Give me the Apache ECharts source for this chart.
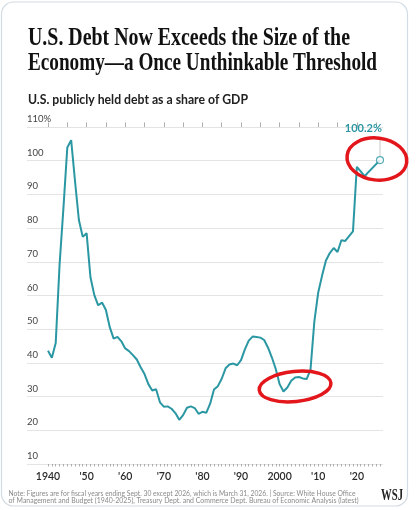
<!DOCTYPE html>
<html><head><meta charset="utf-8">
<script src="https://cdn.jsdelivr.net/npm/echarts@6/dist/echarts.min.js"></script>
<style>html,body{margin:0;padding:0;background:#fff}#c{width:420px;height:510px}</style>
</head><body><div id="c"></div>
<script>
// ---- data ----
const years = [1940,1941,1942,1943,1944,1945,1946,1947,1948,1949,
  1950,1951,1952,1953,1954,1955,1956,1957,1958,1959,
  1960,1961,1962,1963,1964,1965,1966,1967,1968,1969,
  1970,1971,1972,1973,1974,1975,1976,1977,1978,1979,
  1980,1981,1982,1983,1984,1985,1986,1987,1988,1989,
  1990,1991,1992,1993,1994,1995,1996,1997,1998,1999,
  2000,2001,2002,2003,2004,2005,2006,2007,2008,2009,
  2010,2011,2012,2013,2014,2015,2016,2017,2018,2019,
  2020,2021,2022,2023,2024,2025,2026];
const debtShare = [43.6,41.5,45.9,69.2,86.0,103.9,106.1,93.9,82.4,77.4,
  78.5,65.4,60.1,57.1,57.9,55.7,50.6,47.2,47.7,46.4,
  44.3,43.5,42.3,41.0,38.7,36.7,33.7,31.8,32.2,28.3,
  27.0,27.1,26.4,25.1,23.1,24.5,26.7,27.1,26.6,24.9,
  25.5,25.2,27.9,32.1,33.1,35.3,38.4,39.5,39.8,39.3,
  40.8,44.0,46.6,47.8,47.7,47.5,46.8,44.5,41.6,38.2,
  33.7,31.5,32.7,34.7,35.7,35.8,35.4,35.2,38.0,52.3,
  60.9,65.9,70.4,72.6,74.1,72.9,76.4,76.2,77.6,79.0,
  98.2,96.8,95.4,96.6,97.8,99.0,100.2];
const xLabelYears = [1940,1950,1960,1970,1980,1990,2000,2010,2020];
const xLabelText = ['1940',"'50","'60","'70","'80","'90",'2000',"'10","'20"];
const yMin = 10, yMax = 110, yStep = 10;
const endLabel = '100.2%';
const titleLines = ['U.S. Debt Now Exceeds the Size of the','Economy\u2014a Once Unthinkable Threshold'];
const subtitle = 'U.S. publicly held debt as a share of GDP';
const noteLines = ['Note: Figures are for fiscal years ending Sept. 30 except 2026, which is March 31, 2026. | Source: White House Office',
  'of Management and Budget (1940-2025), Treasury Dept. and Commerce Dept. Bureau of Economic Analysis (latest)'];

// ---- derived ----
const lineData = years.map((y,i)=>[y, debtShare[i]]);
const yearTicks = years.slice();
const fiveTicks = years.filter(y=>y%5===0);
const TEAL = '#2a97a3';
const SANS = 'Lato, "Noto Sans", sans-serif';

const chart = echarts.init(document.getElementById('c'), null, {renderer:'canvas'});
const xCommon = {type:'value', min:1934.56, max:2026.78, gridIndex:0,
  splitLine:{show:false}, axisLine:{show:false}};
chart.setOption({
  animation:false,
  grid:{left:27, right:37, top:127, bottom:46, containLabel:false},
  xAxis:[
    Object.assign({}, xCommon, {
      axisTick:{show:true, customValues:yearTicks, length:2.5, lineStyle:{color:'#9a9a9a', width:0.8}},
      axisLabel:{show:true, customValues:xLabelYears, margin:7, color:'#2a2a2a', fontSize:10.5, fontFamily:SANS, fontWeight:600,
        formatter:v=>{const i=xLabelYears.indexOf(Math.round(v)); return i>=0?xLabelText[i]:'';}}
    }),
    Object.assign({}, xCommon, {
      axisTick:{show:true, customValues:fiveTicks, length:4.5, lineStyle:{color:'#9a9a9a', width:0.8}},
      axisLabel:{show:false}
    })
  ],
  yAxis:{type:'value', min:yMin, max:yMax, interval:yStep,
    axisLine:{show:false}, axisTick:{show:false},
    splitLine:{show:true, lineStyle:{color:'#e4e4e4', width:1}},
    axisLabel:{inside:true, margin:0, verticalAlign:'bottom', padding:[0,0,3,0], color:'#444', fontSize:9.5, fontFamily:SANS,
      formatter:v=> v===yMax ? v+'%' : String(v)}
  },
  series:[
    {type:'line', data:lineData, xAxisIndex:0, showSymbol:false, symbol:'none',
      lineStyle:{color:TEAL, width:2}, z:3},
    {type:'scatter', data:[lineData[lineData.length-1]], xAxisIndex:0, symbol:'circle', symbolSize:7,
      itemStyle:{color:'#fff', borderColor:TEAL, borderWidth:1.2}, z:5}
  ]
});

// ---- text & overlay ----
const cv = document.createElement('canvas').getContext('2d');
function fitScale(font, text, target){ cv.font = font; return target / cv.measureText(text).width; }

const titleFont = 'bold 26px "Liberation Serif", serif';
const subFont = 'bold 13px ' + SANS;
const noteFont = '7px ' + SANS;
const last = lineData[lineData.length-1];
const pEnd = chart.convertToPixel({xAxisIndex:0, yAxisIndex:0}, last);
const pA1 = chart.convertToPixel({xAxisIndex:0, yAxisIndex:0}, [2025.2, 100.5]);
const pA2 = chart.convertToPixel({xAxisIndex:0, yAxisIndex:0}, [2004, 33]);

function txt(text, x, y, font, fill, target, extra){
  const s = target ? fitScale(font, text, target) : 1;
  return Object.assign({type:'text', x:x, y:y, scaleX:s, silent:true, z:20,
    style:{text:text, font:font, fill:fill, align:'left', verticalAlign:'middle'}}, extra||{});
}
const graphics = [
  {type:'rect', shape:{x:1.5, y:2, width:406, height:504, r:12}, style:{fill:'none', stroke:'#d3dce4', lineWidth:1.2}, silent:true, z:1},
  txt(titleLines[0], 28, 38.5, titleFont, '#111', 322),
  txt(titleLines[1], 28, 63.5, titleFont, '#111', 349),
  txt(subtitle, 28, 100, subFont, '#222', 220),
  txt(noteLines[0], 8.5, 493.5, noteFont, '#8a8a8a', 347),
  txt(noteLines[1], 8.5, 500.5, noteFont, '#8a8a8a', 350),
  txt('WSJ', 381, 496, 'bold 17px "Liberation Serif", serif', '#222', 22),
  {type:'line', shape:{x1:pEnd[0], y1:pEnd[1]-4, x2:pEnd[0], y2:pEnd[1]-23}, style:{stroke:'#c8c8c8', lineWidth:1}, silent:true, z:4},
  {type:'text', x:pEnd[0]+2, y:pEnd[1]-31.5, silent:true, z:20,
    style:{text:endLabel, font:'bold 11px '+SANS, fill:TEAL, align:'right', verticalAlign:'middle'}},
  {type:'ellipse', x:pA1[0], y:pA1[1], rotation:-0.12, shape:{cx:0, cy:0, rx:30, ry:21},
    style:{fill:'none', stroke:'#e3161b', lineWidth:3.5}, silent:true, z:30},
  {type:'ellipse', x:pA2[0], y:pA2[1], rotation:0.1, shape:{cx:0, cy:0, rx:36, ry:15},
    style:{fill:'none', stroke:'#e3161b', lineWidth:3.5}, silent:true, z:30}
];
chart.setOption({graphic:graphics});
</script>
</body></html>
